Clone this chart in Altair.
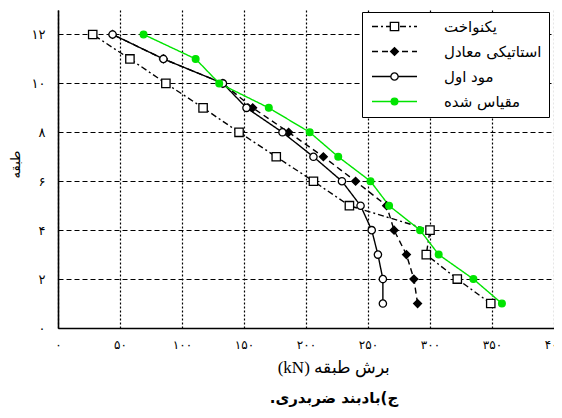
import altair as alt
import pandas as pd

# ---- data ----
floors = [1, 2, 3, 4, 5, 6, 7, 8, 9, 10, 11, 12]
uniform = [349, 322, 297, 300, 235, 206, 176, 146, 117, 87, 58, 28]
static_eq = [290, 287, 281, 271, 265, 240, 214, 186, 157, 133, 85, 44]
mode1 = [262, 262, 258, 253, 244, 229, 206, 181, 152, 133, 85, 44]
scaled = [358, 335, 307, 292, 267, 252, 226, 203, 170, 130, 111, 69]

series_names = ["یکنواخت", "استاتیکی معادل", "مود اول", "مقیاس شده"]
series_keys = ["u", "s", "m", "g"]

x_ticks = [0, 50, 100, 150, 200, 250, 300, 350, 400]
x_tick_labels = ["۰", "۵۰", "۱۰۰", "۱۵۰", "۲۰۰", "۲۵۰", "۳۰۰", "۳۵۰", "۴۰۰"]
y_ticks = [0, 2, 4, 6, 8, 10, 12]
y_tick_labels = ["۰", "۲", "۴", "۶", "۸", "۱۰", "۱۲"]

# written in visual (left-to-right) order so that it renders as in the reference
x_title = "(kN) برش طبقه"
y_title = "طبقه"
caption = ".ج)بادبند ضربدری"

rows = []
for name, key, vals in zip(series_names, series_keys, [uniform, static_eq, mode1, scaled]):
    for f, v in zip(floors, vals):
        rows.append({"floor": f, "shear": v, "series": name, "key": key})
df = pd.DataFrame(rows)


def label_expr(vals, labels):
    return " : ".join(f"datum.value == {v} ? '{l}'" for v, l in zip(vals, labels)) + " : ''"


GREEN = "#00e400"
PFONT = "DejaVu Sans"

x_enc = alt.X(
    "shear:Q",
    scale=alt.Scale(domain=[0, 400], nice=False, zero=False),
    axis=alt.Axis(
        values=x_ticks, labelExpr=label_expr(x_ticks, x_tick_labels),
        title=None, grid=True, gridColor="black", gridDash=[2, 2], gridWidth=1.2,
        gridOpacity=1, domainColor="black", domainWidth=1.6, ticks=False,
        labelFont=PFONT, labelFontSize=12, labelColor="black", labelPadding=11,
        labelFlush=False, labelOverlap=False,
    ),
)
y_enc = alt.Y(
    "floor:Q",
    scale=alt.Scale(domain=[0, 13], nice=False, zero=False),
    axis=alt.Axis(
        values=y_ticks, labelExpr=label_expr(y_ticks, y_tick_labels),
        title=y_title, grid=True, gridColor="black", gridDash=[5, 3], gridWidth=1.2,
        gridOpacity=1, domainColor="black", domainWidth=1.6, ticks=False,
        labelFont=PFONT, labelFontSize=13, labelColor="black", labelPadding=13,
        labelOverlap=False,
        titleFont=PFONT, titleFontSize=13, titleFontWeight="normal",
        titleColor="black", titleX=-43, titleY=154, titleAngle=270,
        titleAlign="center", titleBaseline="middle",
    ),
)

base = alt.Chart(df).encode(x=x_enc, y=y_enc)

legend_common = dict(
    title=None, orient="none", legendY=2, direction="vertical", padding=7,
    labelFont=PFONT, labelFontSize=15, labelColor="black", rowPadding=9,
    labelLimit=300,
)

lines = base.mark_line().encode(
    order=alt.Order("floor:Q"),
    color=alt.Color(
        "series:N",
        scale=alt.Scale(domain=series_names, range=["black", "black", "black", GREEN]),
        legend=alt.Legend(
            legendX=304, fillColor="white", strokeColor="black", zindex=1,
            symbolType="M-1,0H9", symbolSize=81, labelOffset=60, **legend_common,
        ),
    ),
    strokeDash=alt.StrokeDash(
        "series:N",
        scale=alt.Scale(domain=series_names, range=[[6, 3, 2, 3], [6, 4], [1, 0], [1, 0]]),
    ),
    strokeWidth=alt.StrokeWidth(
        "series:N",
        scale=alt.Scale(domain=series_names, range=[1.4, 1.4, 1.6, 3]),
    ),
)

pts = base.mark_point(filled=True, opacity=1, strokeWidth=1.3).encode(
    shape=alt.Shape(
        "key:N",
        scale=alt.Scale(domain=series_keys, range=["square", "diamond", "circle", "circle"]),
        legend=alt.Legend(legendX=322, labelOpacity=0, symbolStrokeWidth=1.3,
                          zindex=2, **legend_common),
    ),
    fill=alt.Fill(
        "key:N",
        scale=alt.Scale(domain=series_keys, range=["white", "black", "white", GREEN]),
    ),
    stroke=alt.Stroke(
        "key:N",
        scale=alt.Scale(domain=series_keys, range=["black", "black", "black", GREEN]),
    ),
    size=alt.Size(
        "key:N",
        scale=alt.Scale(domain=series_keys, range=[70, 45, 55, 36]),
    ),
)

chart = (
    alt.layer(lines, pts)
    .properties(
        width=496, height=318,
        autosize=alt.AutoSizeParams(type="none"),
        padding={"left": 50, "top": 2, "right": 0, "bottom": 82},
        title=alt.TitleParams(
            x_title, subtitle=caption, orient="bottom", anchor="middle", frame="group",
            font="Liberation Serif", fontSize=17, fontWeight="normal", color="black",
            subtitleFont=PFONT, subtitleFontSize=15, subtitleFontWeight="bold",
            subtitleColor="black", subtitlePadding=14, offset=10, dx=28,
        ),
    )
    .configure_view(stroke=None)
)

chart.save("out.html", embed_options={"renderer": "svg", "actions": False})
